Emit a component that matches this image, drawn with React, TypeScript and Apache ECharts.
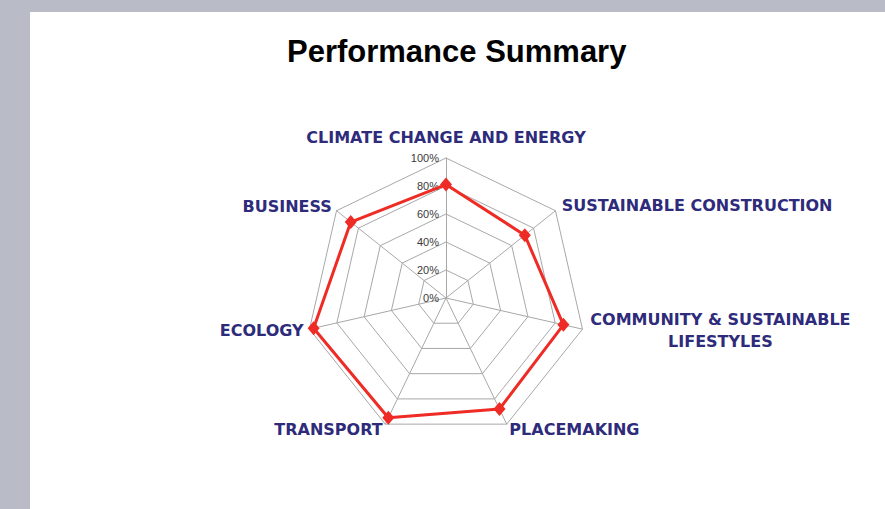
import React, { useEffect, useRef } from 'react';
import * as echarts from 'echarts';

// Indicators in counter-clockwise order starting from the top
const categories = [
  'CLIMATE CHANGE AND ENERGY',
  'BUSINESS',
  'ECOLOGY',
  'TRANSPORT',
  'PLACEMAKING',
  'COMMUNITY & SUSTAINABLE\nLIFESTYLES',
  'SUSTAINABLE CONSTRUCTION',
];
const scores = [81, 87, 97, 95, 88, 86, 72];
const maxValue = 100;
const tickStep = 20;
const nameGaps = [10, 6, 6, 6, 6, 8, 8];

const NAVY = '#2e2b7a';
const RED = '#ee2b24';
const GRID = '#a8a8a8';

export default function App() {
  const ref = useRef<HTMLDivElement>(null);
  useEffect(() => {
    if (!ref.current) return;
    const chart = echarts.init(ref.current, undefined, { renderer: 'svg' });
    const nameFont = {
      color: NAVY,
      fontFamily: 'DejaVu Sans',
      fontWeight: 'bold' as const,
      fontSize: 16,
      lineHeight: 22,
    };
    chart.setOption({
      animation: false,
      backgroundColor: '#b9bcc6',
      graphic: [
        {
          type: 'rect',
          shape: { x: 30, y: 12, width: 860, height: 500 },
          style: { fill: '#ffffff' },
          z: -10,
          silent: true,
        },
      ],
      title: {
        text: 'Performance Summary',
        left: 282,
        top: 31,
        textStyle: {
          fontFamily: 'Liberation Sans, Arial, sans-serif',
          fontWeight: 'bold',
          fontSize: 31,
          color: '#000000',
        },
      },
      radar: {
        center: [446, 298],
        radius: 140,
        startAngle: 90,
        shape: 'polygon',
        splitNumber: maxValue / tickStep,
        indicator: categories.map((name, i) => ({
          name,
          min: 0,
          max: maxValue,
          nameGap: nameGaps[i],
          axisTick: { show: false },
          ...(i === 0 ? { axisLabel: { show: true } } : {}),
        })),
        nameGap: 6,
        axisName: {
          ...nameFont,
          formatter: (name: string) => {
            const parts = name.split('\n');
            if (parts.length < 2) return name;
            return parts[0] + '\n{c|' + parts[1] + '}';
          },
          rich: {
            c: { ...nameFont, align: 'center' },
          },
        },
        axisLabel: {
          show: false,
          formatter: '{value}%',
          fontSize: 11,
          fontFamily: 'Liberation Sans, Arial, sans-serif',
          color: '#3a3a3a',
          margin: 7,
        },
        axisTick: { show: false },
        axisLine: { lineStyle: { color: GRID, width: 1 } },
        splitLine: { lineStyle: { color: GRID, width: 1 } },
        splitArea: { show: false },
      },
      series: [
        {
          type: 'radar',
          data: [{ value: scores, name: 'Performance' }],
          symbol: 'diamond',
          symbolSize: [12, 14],
          lineStyle: { color: RED, width: 3 },
          itemStyle: { color: RED },
        },
      ],
    });
    return () => chart.dispose();
  }, []);
  return (
    <div
      ref={ref}
      style={{ position: 'fixed', left: 0, top: 0, width: 885, height: 509 }}
    />
  );
}
